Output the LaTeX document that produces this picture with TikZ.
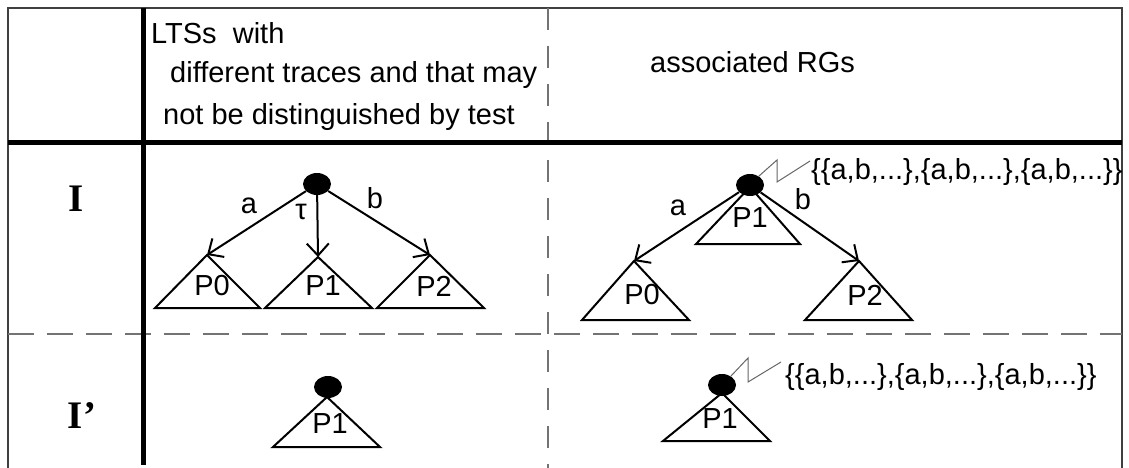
\documentclass[tikz,border=0pt]{standalone}
\usepackage{fontspec}
\setmainfont{Liberation Sans}
\newfontfamily\rowserif{Liberation Serif}
\usetikzlibrary{arrows.meta,shapes.geometric}
\begin{document}
\begin{tikzpicture}[x=1pt,y=-1pt,
  txt/.style={font=\fontsize{29}{34}\selectfont, inner sep=0pt},
  rowlbl/.style={font=\rowserif\bfseries\fontsize{39}{44}\selectfont, inner sep=0pt},
  frame/.style={draw=black!75, line width=1.2pt},
  thickrule/.style={draw=black, line width=5pt},
  dashrule/.style={draw=black!55, line width=1.5pt, dash pattern=on 26pt off 13pt},
  dashvrule/.style={draw=black!55, line width=1.3pt, dash pattern=on 22pt off 16pt},
  tri/.style={draw=black, line width=2pt, line join=miter},
  state/.style={ellipse, fill=black, draw=none, minimum width=28pt, minimum height=22pt, inner sep=0pt},
  arr/.style={draw=black, line width=2pt, -{Straight Barb[length=12pt,width=22pt,line width=2pt]}},
  zig/.style={draw=black!60, line width=1pt}]
\useasboundingbox (0,0) rectangle (1129,468);
% table frame
\draw[frame] (8,468) -- (8,8) -- (1122,8) -- (1122,468);
\draw[dashvrule] (548,8) -- (548,468);
\draw[dashrule] (8,334) -- (1122,334);
\draw[thickrule] (8,142) -- (1122,142);
\draw[thickrule] (143,8) -- (143,465);
% header
\node[txt, anchor=west] (h1) at (151,33) {LTSs\ \ with};
\node[txt, anchor=west] (h2) at (170,75) {different traces and that may};
\node[txt, anchor=west] (h3) at (163,117) {not be distinguished by test};
\node[txt, anchor=west] (h4) at (650,62) {associated RGs};
% row labels
\node[rowlbl] (r1) at (76,199) {I};
\node[rowlbl] (r2) at (82,416) {I’};
% LTS I
\draw[tri] (207,255) -- (155,308) -- (260,308) -- cycle;
\draw[tri] (318,257) -- (265,308) -- (372,308) -- cycle;
\draw[tri] (430,255) -- (377,308) -- (484,308) -- cycle;
\coordinate (a0) at (207,255);
\coordinate (a1) at (318,257);
\coordinate (a2) at (430,255);
\node[txt] (p0) at (212,286) {P0};
\node[txt] (p1) at (323,286) {P1};
\node[txt] (p2) at (434,286) {P2};
\node[state] (s1) at (317,184) {};
\draw[arr] (s1) -- (a0);
\draw[arr] (s1) -- (a1);
\draw[arr] (s1) -- (a2);
\node[txt] (la) at (249,206) {a};
\node[txt] (lt) at (301,212) {τ};
\node[txt] (lb) at (375,198) {b};
% RG I
\draw[tri] (750,187) -- (696,244) -- (800,244) -- cycle;
\draw[tri] (634,261) -- (582,320) -- (689,320) -- cycle;
\draw[tri] (859,261) -- (805,320) -- (912,320) -- cycle;
\coordinate (b0) at (634,261);
\coordinate (b2) at (859,261);
\node[txt] (q1) at (750,218) {P1};
\node[txt] (q0) at (642,295) {P0};
\node[txt] (q2) at (865,295) {P2};
\node[state] (s2) at (750,185) {};
\draw[arr] (s2) -- (b0);
\draw[arr] (s2) -- (b2);
\node[txt] (ma) at (678,208) {a};
\node[txt] (mb) at (803,199) {b};
\coordinate (z1) at (777,160);
\coordinate (z2) at (777,182);
\coordinate (z3) at (810,161);
\draw[zig] (s2.45) -- (z1) -- (z2) -- (z3);
\node[txt, anchor=west] (set1) at (811,172) {\{\{a,b,...\},\{a,b,...\},\{a,b,...\}\}};
% LTS I'
\draw[tri] (327,397) -- (273,447) -- (380,447) -- cycle;
\node[txt] (p1b) at (330,424) {P1};
\node[state] (s3) at (328,387) {};
% RG I'
\draw[tri] (722,393) -- (663,441) -- (770,441) -- cycle;
\node[txt] (q1b) at (720,419) {P1};
\node[state] (s4) at (722,385) {};
\coordinate (y1) at (748,358);
\coordinate (y2) at (748,382);
\coordinate (y3) at (781,362);
\draw[zig] (s4.45) -- (y1) -- (y2) -- (y3);
\node[txt, anchor=west] (set2) at (785,377) {\{\{a,b,...\},\{a,b,...\},\{a,b,...\}\}};
\end{tikzpicture}
\end{document}
